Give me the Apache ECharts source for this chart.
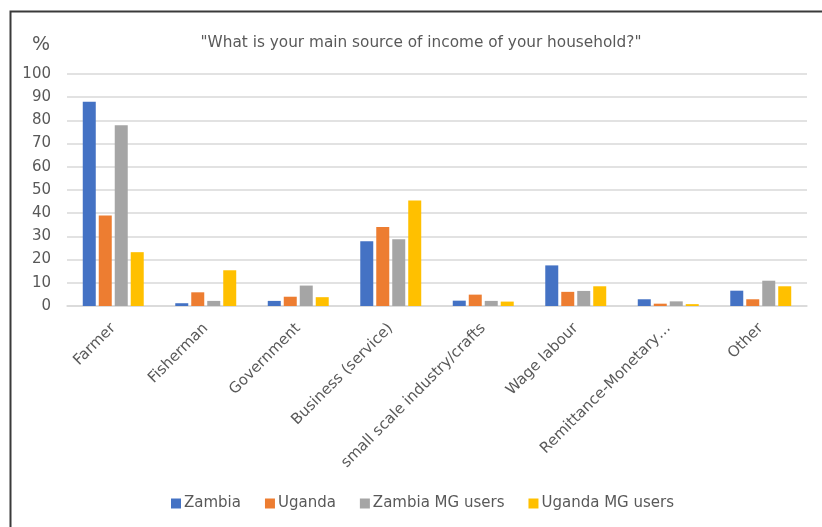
<!DOCTYPE html>
<html>
<head>
<meta charset="utf-8">
<style>
  html, body { margin: 0; padding: 0; background: #ffffff; }
  #chart { width: 822px; height: 527px; }
</style>
<script src="https://cdn.jsdelivr.net/npm/echarts@6/dist/echarts.min.js"></script>
</head>
<body>
<div id="chart"></div>
<script>
// Income sources by country and money-group users (%)
const categories = [
  'Farmer', 'Fisherman', 'Government', 'Business (service)',
  'small scale industry/crafts', 'Wage labour', 'Remittance-Monetary…', 'Other'
];
const zambia        = [88.0, 1.2, 2.2, 27.9, 2.3, 17.5, 2.9, 6.6];
const uganda        = [39.0, 5.9, 4.0, 34.1, 4.9, 6.1, 1.0, 2.9];
const zambiaMG      = [77.9, 2.2, 8.8, 28.8, 2.2, 6.5, 2.0, 10.9];
const ugandaMG      = [23.2, 15.4, 3.8, 45.5, 1.9, 8.5, 0.8, 8.5];
const seriesNames   = ['Zambia', 'Uganda', 'Zambia MG users', 'Uganda MG users'];
const seriesColors  = ['#4472C4', '#ED7D31', '#A5A5A5', '#FFC000'];

const FONT = 'DejaVu Sans';
const TEXT = '#595959';

const chart = echarts.init(document.getElementById('chart'), null, { renderer: 'canvas' });

const makeSeries = (name, data, color) => ({
  name,
  type: 'bar',
  data,
  barWidth: 13,
  barGap: '23%',
  itemStyle: { color },
  emphasis: { disabled: true }
});

chart.setOption({
  animation: false,
  backgroundColor: '#ffffff',
  textStyle: { fontFamily: FONT },
  title: {
    text: '"What is your main source of income of your household?"',
    left: 416,
    top: 31,
    textAlign: 'center',
    textStyle: { fontFamily: FONT, fontSize: 15.3, fontWeight: 'normal', color: TEXT }
  },
  legend: {
    bottom: 11,
    left: 166,
    itemWidth: 10,
    itemHeight: 10,
    itemGap: 24,
    icon: 'rect',
    textStyle: { fontFamily: FONT, fontSize: 15, color: TEXT, padding: [0, 0, 0, -2] },
    data: seriesNames
  },
  grid: { left: 67, right: 15, top: 74, bottom: 221, containLabel: false },
  xAxis: {
    type: 'category',
    data: categories,
    axisLine: { lineStyle: { color: '#d9d9d9', width: 1.5 } },
    axisTick: { show: false },
    axisLabel: {
      rotate: 45,
      interval: 0,
      margin: 20,
      fontFamily: FONT,
      fontSize: 15,
      color: TEXT
    }
  },
  yAxis: {
    type: 'value',
    min: 0,
    max: 100,
    interval: 10,
    axisLine: { show: false },
    axisTick: { show: false },
    splitLine: { lineStyle: { color: '#d9d9d9', width: 1.5 } },
    axisLabel: { margin: 16, fontFamily: FONT, fontSize: 15, color: TEXT }
  },
  graphic: [
    {
      type: 'rect',
      left: 8, top: 9,
      shape: { width: 830, height: 530 },
      style: { fill: 'none', stroke: '#3a3a3a', lineWidth: 2 },
      silent: true
    },
    {
      type: 'text',
      left: 32, top: 36,
      style: { text: '%', fontFamily: FONT, fontSize: 19, fill: TEXT }
    }
  ],
  series: [
    makeSeries(seriesNames[0], zambia, seriesColors[0]),
    makeSeries(seriesNames[1], uganda, seriesColors[1]),
    makeSeries(seriesNames[2], zambiaMG, seriesColors[2]),
    makeSeries(seriesNames[3], ugandaMG, seriesColors[3])
  ]
});
</script>
</body>
</html>
